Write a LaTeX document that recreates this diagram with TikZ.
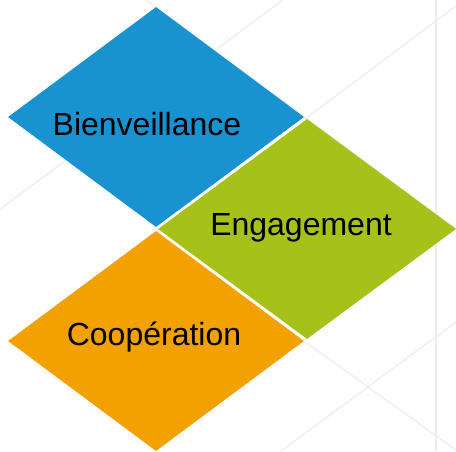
\documentclass[tikz,border=0pt]{standalone}
\usepackage{fontspec}
\setmainfont{Liberation Sans}
\usetikzlibrary{shapes.geometric}
\definecolor{bleu}{RGB}{25,146,208}
\definecolor{vert}{RGB}{166,194,26}
\definecolor{orange}{RGB}{242,161,0}
\definecolor{trait}{RGB}{238,238,238}

\begin{document}
\begin{tikzpicture}[x=1pt,y=-1pt,
        tile/.style={diamond, draw=none, inner sep=0pt, minimum width=296pt, minimum height=220pt},
        mot/.style={anchor=base, text=black, font=\fontsize{32}{38}\selectfont},
        fond/.style={draw=trait, line width=1.4pt}]
        \useasboundingbox (0,0) rectangle (456,451);

        % lignes de fond
        \draw[fond] (0,209) -- (283,0);
        \draw[fond] (146,0) -- (456,229);
        \draw[fond] (305,119) -- (456,6);
        \draw[fond] (304,341) -- (456,450);
        \draw[fond] (281,451) -- (456,322);
        \draw[fond] (436,0) -- (436,451);

        \node[tile, fill=bleu] at (156,117) (B) {};
        \node[tile, fill=vert, minimum width=298pt] at (307,229) (E) {};
        \node[tile, fill=orange] at (156,341) (C) {};

        \node[mot] at (147,135) (b) {Bienveillance};
        \node[mot] at (301,235) (e) {Engagement};
        \node[mot] at (154,345) (c) {Coopération};

    \end{tikzpicture}
\end{document}
